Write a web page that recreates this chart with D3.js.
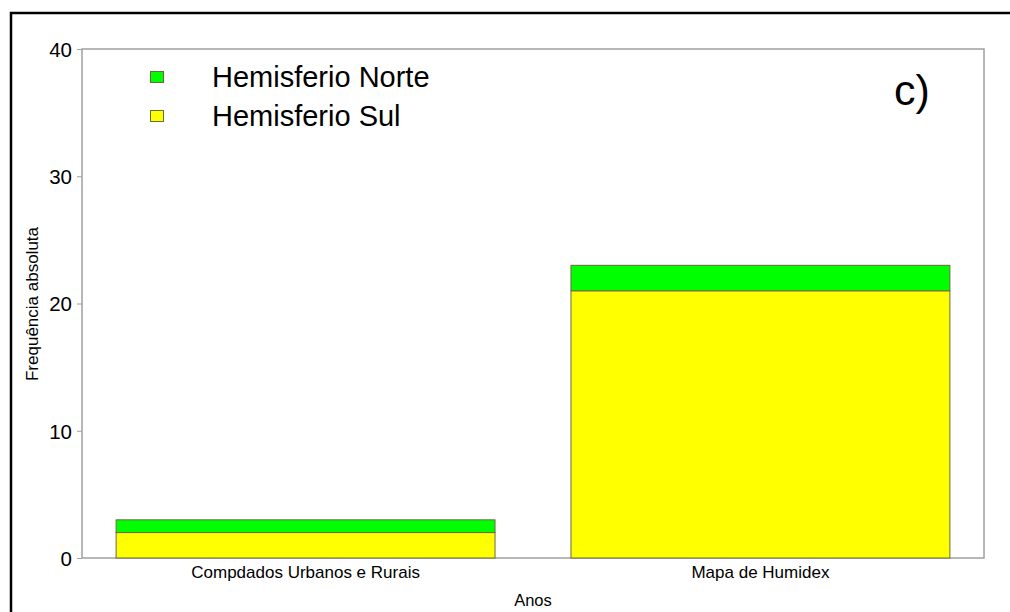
<!DOCTYPE html>
<html><head><meta charset="utf-8">
<script src="https://cdn.jsdelivr.net/npm/d3@7"></script>
<style>body{margin:0;background:#fff;} text{font-family:"Liberation Sans",Arial,sans-serif;}</style>
</head><body><svg id="c" width="1010" height="612"></svg>
<script>
const categories = ["Compdados Urbanos e Rurais", "Mapa de Humidex"];
const seriesNames = ["Hemisferio Sul", "Hemisferio Norte"];
const sulValues = [2, 21];
const norteValues = [1, 2];
const seriesColors = ["#ffff00", "#00ff00"];
const yTicks = [0, 10, 20, 30, 40];

const svg = d3.select("#c");
svg.append("rect").attr("x", 11).attr("y", 13).attr("width", 1100).attr("height", 700)
  .attr("fill", "none").attr("stroke", "#000").attr("stroke-width", 2.5);

const L = 82, R = 984, T = 49, B = 558;
const x = d3.scaleBand().domain(categories).range([L, R]).paddingInner(0.167).paddingOuter(0.075);
const y = d3.scaleLinear().domain([0, 40]).range([B, T]);

const table = categories.map((c, i) => ({cat: c, "Hemisferio Sul": sulValues[i], "Hemisferio Norte": norteValues[i]}));
const stacked = d3.stack().keys(seriesNames)(table);

// frame
svg.append("rect").attr("x", L).attr("y", T).attr("width", R - L).attr("height", B - T)
  .attr("fill", "none").attr("stroke", "#a0a0a0").attr("stroke-width", 1.5);

// bars
stacked.forEach((s, si) => {
  svg.append("g").selectAll("rect").data(s).join("rect")
    .attr("x", d => x(d.data.cat))
    .attr("width", x.bandwidth())
    .attr("y", d => y(d[1]))
    .attr("height", d => y(d[0]) - y(d[1]))
    .attr("fill", seriesColors[si])
    .attr("stroke", "#6a6a3a").attr("stroke-width", 1);
});

// y axis
const ya = svg.append("g").attr("transform", `translate(${L},0)`)
  .call(d3.axisLeft(y).tickValues(yTicks).tickSize(5).tickPadding(5));
ya.select(".domain").remove();
ya.selectAll(".tick line").attr("stroke", "#a0a0a0");
ya.selectAll(".tick text").attr("font-size", 20.5).attr("fill", "#000").attr("dy", "0.36em");

// x axis labels
const xa = svg.append("g").attr("transform", `translate(0,${B})`)
  .call(d3.axisBottom(x).tickSize(0).tickPadding(8));
xa.select(".domain").remove();
xa.selectAll(".tick text").attr("font-size", 17).attr("fill", "#000");

svg.append("text").attr("x", (L + R) / 2).attr("y", 606).attr("text-anchor", "middle")
  .attr("font-size", 16.5).text("Anos");
svg.append("text").attr("transform", "translate(38,304) rotate(-90)").attr("text-anchor", "middle")
  .attr("font-size", 17).text("Frequência absoluta");

// legend
const legendItems = [seriesNames[1], seriesNames[0]];
const legendColors = [seriesColors[1], seriesColors[0]];
legendItems.forEach((name, i) => {
  const cy = 77 + i * 39;
  svg.append("rect").attr("x", 150.5).attr("y", cy - 5.5).attr("width", 13).attr("height", 11)
    .attr("fill", legendColors[i]).attr("stroke", "#6a6a3a").attr("stroke-width", 1);
  svg.append("text").attr("x", 212).attr("y", cy + 10).attr("font-size", 29).text(name);
});

svg.append("text").attr("x", 912).attr("y", 105).attr("text-anchor", "middle")
  .attr("font-size", 43).text("c)");
</script></body></html>
